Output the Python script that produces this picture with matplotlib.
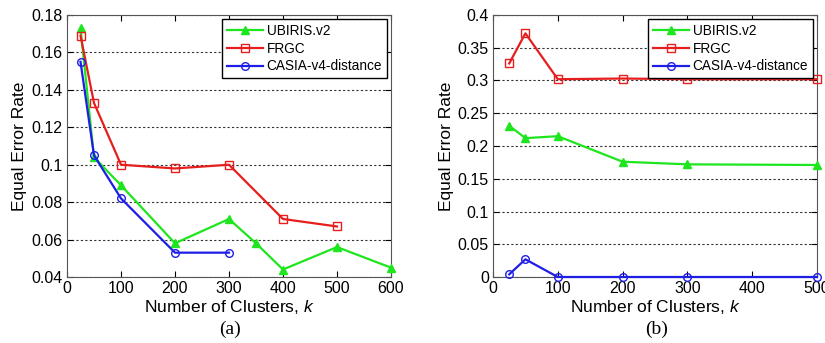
import numpy as np
import matplotlib.pyplot as plt

# panel (a)
ubiris_k_a = [25, 50, 100, 200, 300, 350, 400, 500, 600]
ubiris_eer_a = [0.173, 0.104, 0.089, 0.058, 0.071, 0.058, 0.044, 0.056, 0.045]
frgc_k_a = [25, 50, 100, 200, 300, 400, 500]
frgc_eer_a = [0.169, 0.133, 0.100, 0.098, 0.100, 0.071, 0.067]
casia_k_a = [25, 50, 100, 200, 300]
casia_eer_a = [0.155, 0.105, 0.082, 0.053, 0.053]

# panel (b)
k_b = [25, 50, 100, 200, 300, 500]
ubiris_eer_b = [0.231, 0.212, 0.215, 0.176, 0.172, 0.171]
frgc_eer_b = [0.326, 0.372, 0.302, 0.303, 0.302, 0.302]
casia_eer_b = [0.004, 0.027, 0.0, 0.0, 0.0, 0.0]

green = '#1ee61e'
red = '#e61e1e'
blue = '#1e1ee6'

plt.rcParams['font.family'] = ['Liberation Sans', 'DejaVu Sans']
plt.rcParams['mathtext.fontset'] = 'custom'
plt.rcParams['mathtext.it'] = 'Liberation Sans:italic'

fig = plt.figure(figsize=(8.25, 3.43), dpi=100)
ax1 = fig.add_axes([67 / 825, 1 - 277 / 343, 324 / 825, 262 / 343])
ax2 = fig.add_axes([493 / 825, 1 - 277 / 343, 324 / 825, 262 / 343])


def draw(ax, series, xlim, ylim, yticks, ytlabels, xticks):
    for k, v, c, m, lab in series:
        ax.plot(k, v, color=c, marker=m, markersize=5.5, markerfacecolor='none' if m != '^' else c,
                markeredgecolor=c, linewidth=1.6, label=lab, clip_on=False, zorder=3)
    ax.set_xlim(*xlim)
    ax.set_ylim(*ylim)
    ax.set_xticks(xticks)
    ax.set_yticks(yticks)
    ax.set_yticklabels(ytlabels)
    ax.yaxis.grid(True, linestyle=(0, (2, 2)), color='#333333', linewidth=0.8)
    ax.tick_params(direction='in', top=True, right=True, labelsize=11.5, length=4, pad=3)
    ax.set_xlabel('Number of Clusters, $k$', fontsize=12.5, labelpad=1)
    ax.set_ylabel('Equal Error Rate', fontsize=12.5, labelpad=3)
    ax.legend(loc='upper right', fontsize=9.8, frameon=True, fancybox=False,
              edgecolor='black', framealpha=1, handlelength=2.6, borderpad=0.35,
              labelspacing=0.28, handletextpad=0.3, borderaxespad=0.3)
    for s in ax.spines.values():
        s.set_color('#555555')


draw(ax1, [(ubiris_k_a, ubiris_eer_a, green, '^', 'UBIRIS.v2'),
           (frgc_k_a, frgc_eer_a, red, 's', 'FRGC'),
           (casia_k_a, casia_eer_a, blue, 'o', 'CASIA-v4-distance')],
     (0, 600), (0.04, 0.18), np.arange(0.04, 0.181, 0.02),
     ['0.04', '0.06', '0.08', '0.1', '0.12', '0.14', '0.16', '0.18'],
     [0, 100, 200, 300, 400, 500, 600])

draw(ax2, [(k_b, ubiris_eer_b, green, '^', 'UBIRIS.v2'),
           (k_b, frgc_eer_b, red, 's', 'FRGC'),
           (k_b, casia_eer_b, blue, 'o', 'CASIA-v4-distance')],
     (0, 500), (0, 0.4), np.arange(0, 0.401, 0.05),
     ['0', '0.05', '0.1', '0.15', '0.2', '0.25', '0.3', '0.35', '0.4'],
     [0, 100, 200, 300, 400, 500])

fig.text(230 / 825, 1 - 329 / 343, '(a)', family='Liberation Serif', fontsize=14, ha='center', va='center')
fig.text(657 / 825, 1 - 329 / 343, '(b)', family='Liberation Serif', fontsize=14, ha='center', va='center')

fig.savefig('out.png', dpi=100)
